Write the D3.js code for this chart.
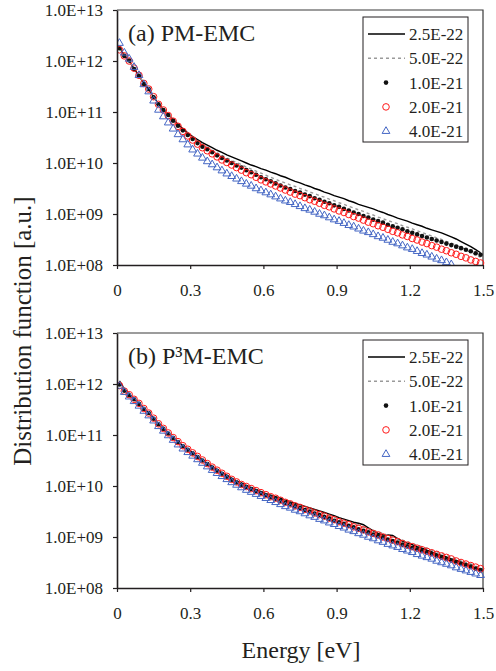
<!DOCTYPE html>
<html><head><meta charset="utf-8">
<script src="https://cdn.jsdelivr.net/npm/d3@7"></script>
<style>
body{margin:0;background:#fff}
svg text{font-family:"Liberation Serif","Times New Roman",serif !important;fill:#231f20}
</style>
</head><body><svg id="c" width="496" height="671" font-family="Liberation Serif"></svg>
<script>
// Energy [eV] (bin centres)
const energy = [0.01,0.03,0.05,0.07,0.09,0.11,0.13,0.15,0.17,0.19,0.21,0.23,0.25,0.27,0.29,0.31,0.33,0.35,0.37,0.39,
0.41,0.43,0.45,0.47,0.49,0.51,0.53,0.55,0.57,0.59,0.61,0.63,0.65,0.67,0.69,0.71,0.73,0.75,0.77,0.79,
0.81,0.83,0.85,0.87,0.89,0.91,0.93,0.95,0.97,0.99,1.01,1.03,1.05,1.07,1.09,1.11,1.13,1.15,1.17,1.19,
1.21,1.23,1.25,1.27,1.29,1.31,1.33,1.35,1.37,1.39,1.41,1.43,1.45,1.47,1.49];

const seriesNames = ["2.5E-22","5.0E-22","1.0E-21","2.0E-21","4.0E-21"];
const xTicks = [0,0.3,0.6,0.9,1.2,1.5];
const yTickExp = [8,9,10,11,12,13];
const panelTitles = ["(a) PM-EMC","(b) P³M-EMC"];

// values given as log10 of the distribution function
// (a) PM-EMC
const pm_25E22 = [12.27,12.11,12.00,11.85,11.71,11.56,11.44,11.30,11.16,11.05,10.95,10.85,10.76,10.67,10.59,10.52,10.46,10.40,10.35,10.30,
10.25,10.21,10.16,10.12,10.08,10.04,10.00,9.96,9.93,9.89,9.86,9.82,9.79,9.75,9.72,9.68,9.64,9.61,9.57,9.54,
9.50,9.47,9.43,9.40,9.36,9.33,9.30,9.26,9.23,9.19,9.16,9.13,9.10,9.06,9.03,8.99,8.96,8.92,8.89,8.86,
8.82,8.79,8.76,8.72,8.69,8.66,8.63,8.59,8.55,8.51,8.46,8.41,8.36,8.30,8.24];
const pm_50E22 = [12.24,12.11,12.00,11.85,11.72,11.56,11.45,11.30,11.16,11.05,10.95,10.84,10.75,10.66,10.58,10.50,10.43,10.36,10.31,10.25,
10.20,10.15,10.10,10.05,10.01,9.97,9.92,9.88,9.84,9.80,9.76,9.72,9.68,9.64,9.61,9.57,9.54,9.50,9.47,9.43,
9.40,9.36,9.33,9.29,9.26,9.22,9.19,9.15,9.12,9.08,9.05,9.01,8.98,8.94,8.91,8.87,8.84,8.81,8.77,8.74,
8.71,8.67,8.64,8.60,8.57,8.53,8.50,8.46,8.43,8.39,8.35,8.30,8.25,8.20,8.15];
const pm_10E21 = [12.25,12.10,12.01,11.84,11.71,11.55,11.45,11.29,11.15,11.04,10.94,10.83,10.73,10.64,10.55,10.47,10.39,10.32,10.27,10.21,
10.15,10.10,10.05,10.00,9.95,9.91,9.86,9.82,9.77,9.72,9.68,9.64,9.60,9.56,9.52,9.49,9.45,9.42,9.38,9.35,
9.31,9.28,9.24,9.21,9.17,9.14,9.10,9.07,9.03,9.00,8.96,8.93,8.89,8.86,8.83,8.79,8.76,8.73,8.70,8.66,
8.63,8.60,8.57,8.54,8.51,8.48,8.45,8.42,8.39,8.36,8.33,8.30,8.27,8.23,8.20];
const pm_20E21 = [12.22,12.10,12.00,11.86,11.72,11.56,11.45,11.30,11.15,11.04,10.93,10.82,10.72,10.62,10.53,10.45,10.37,10.30,10.24,10.18,
10.12,10.06,10.01,9.96,9.91,9.86,9.81,9.77,9.72,9.67,9.63,9.59,9.55,9.51,9.47,9.43,9.39,9.36,9.32,9.28,
9.25,9.21,9.17,9.14,9.10,9.06,9.03,8.99,8.95,8.92,8.88,8.84,8.81,8.77,8.74,8.70,8.66,8.63,8.59,8.56,
8.52,8.49,8.45,8.42,8.38,8.35,8.31,8.28,8.24,8.21,8.17,8.14,8.10,8.07,8.04];
const pm_40E21 = [12.35,12.16,12.04,11.88,11.72,11.54,11.40,11.22,11.04,10.91,10.79,10.67,10.56,10.46,10.36,10.26,10.18,10.10,10.03,9.97,
9.91,9.85,9.79,9.74,9.69,9.64,9.59,9.55,9.50,9.46,9.42,9.38,9.34,9.30,9.26,9.23,9.19,9.15,9.11,9.08,
9.04,9.00,8.97,8.93,8.89,8.86,8.82,8.78,8.75,8.71,8.67,8.64,8.60,8.56,8.53,8.49,8.45,8.42,8.38,8.34,
8.31,8.27,8.23,8.20,8.16,8.12,8.09,8.05,8.01,null,null,null,null,null,null];

// (b) P3M-EMC
const p3m_25E22 = [12.06,11.90,11.80,11.71,11.62,11.52,11.43,11.33,11.22,11.13,11.04,10.95,10.87,10.79,10.72,10.65,10.58,10.51,10.45,10.38,
10.32,10.26,10.21,10.15,10.10,10.06,10.01,9.97,9.93,9.89,9.85,9.82,9.79,9.76,9.72,9.69,9.66,9.63,9.60,9.57,
9.54,9.51,9.48,9.45,9.42,9.38,9.35,9.32,9.29,9.27,9.24,9.18,9.12,9.07,9.04,9.04,9.03,8.97,8.92,8.88,
8.85,8.81,8.78,8.74,8.71,8.67,8.64,8.61,8.57,8.54,8.50,8.47,8.43,8.39,8.35];
const p3m_50E22 = [12.03,11.89,11.79,11.71,11.62,11.52,11.43,11.33,11.22,11.13,11.04,10.95,10.87,10.79,10.72,10.65,10.58,10.51,10.44,10.38,
10.32,10.26,10.20,10.15,10.10,10.05,10.01,9.97,9.93,9.89,9.85,9.81,9.78,9.74,9.71,9.68,9.64,9.61,9.58,9.55,
9.51,9.48,9.45,9.42,9.39,9.35,9.32,9.29,9.26,9.23,9.19,9.16,9.13,9.10,9.07,9.03,9.00,8.97,8.94,8.91,
8.87,8.84,8.81,8.78,8.74,8.71,8.68,8.64,8.61,8.57,8.54,8.50,8.47,8.43,8.40];
const p3m_10E21 = [11.99,11.87,11.78,11.70,11.61,11.51,11.43,11.32,11.21,11.12,11.03,10.94,10.86,10.78,10.71,10.64,10.57,10.50,10.43,10.36,
10.30,10.24,10.18,10.12,10.07,10.02,9.98,9.94,9.90,9.86,9.82,9.78,9.75,9.71,9.67,9.64,9.60,9.57,9.53,9.50,
9.46,9.43,9.39,9.36,9.32,9.29,9.26,9.22,9.19,9.15,9.12,9.09,9.05,9.02,8.99,8.95,8.92,8.89,8.85,8.82,
8.79,8.76,8.73,8.70,8.67,8.63,8.60,8.57,8.54,8.51,8.48,8.45,8.42,8.38,8.35];
const p3m_20E21 = [11.97,11.86,11.79,11.70,11.62,11.52,11.43,11.33,11.22,11.13,11.04,10.95,10.87,10.79,10.72,10.65,10.58,10.51,10.44,10.37,
10.31,10.25,10.19,10.13,10.08,10.03,9.99,9.95,9.91,9.87,9.83,9.79,9.76,9.72,9.68,9.65,9.61,9.58,9.54,9.51,
9.47,9.44,9.41,9.37,9.34,9.30,9.27,9.24,9.20,9.17,9.14,9.10,9.07,9.04,9.00,8.97,8.94,8.91,8.87,8.84,
8.81,8.78,8.75,8.72,8.69,8.66,8.63,8.60,8.57,8.53,8.50,8.47,8.44,8.41,8.38];
const p3m_40E21 = [11.96,11.84,11.75,11.66,11.57,11.47,11.38,11.28,11.17,11.08,10.99,10.90,10.81,10.73,10.66,10.59,10.52,10.45,10.38,10.31,
10.25,10.19,10.13,10.07,10.02,9.97,9.92,9.88,9.84,9.80,9.76,9.72,9.68,9.64,9.60,9.57,9.53,9.50,9.46,9.42,
9.39,9.35,9.32,9.28,9.25,9.21,9.18,9.14,9.11,9.07,9.04,9.00,8.97,8.93,8.90,8.86,8.83,8.80,8.76,8.73,
8.70,8.66,8.63,8.60,8.57,8.53,8.50,8.47,8.44,8.40,8.37,8.34,8.31,8.28,8.25];

const panelData = [
  [pm_25E22, pm_50E22, pm_10E21, pm_20E21, pm_40E21],
  [p3m_25E22, p3m_50E22, p3m_10E21, p3m_20E21, p3m_40E21]
];

const svg = d3.select("#c");
const FONT = '"Liberation Serif","Times New Roman",serif';
const BLUE = "#4466c4", RED = "#ff1a1a";
const panels = [{top:10,bottom:265},{top:333,bottom:588}];
const L = 117, R = 483;
const x = d3.scaleLinear().domain([0,1.5]).range([L,R]);

panels.forEach((p, pi) => {
  const y = d3.scaleLog().domain([1e8,1e13]).range([p.bottom,p.top]);
  const g = svg.append("g");
  const clipId = "clip"+pi;
  svg.append("clipPath").attr("id",clipId).append("rect")
    .attr("x",L).attr("y",p.top-6).attr("width",R-L+6).attr("height",p.bottom-p.top+6);

  // frame (top/right)
  g.append("path").attr("d",`M${L},${p.top}H${R}V${p.bottom}`).attr("fill","none")
    .attr("stroke","#3a3a3a").attr("stroke-width",1.2);

  const pts = (arr) => arr.map((v,i)=> v==null?null:{e:energy[i], v:Math.pow(10,v)});
  const line = d3.line().defined(d=>d!=null).x(d=>x(d.e)).y(d=>y(d.v));
  const plot = g.append("g").attr("clip-path",`url(#${clipId})`);
  const data = panelData[pi];

  plot.append("path").datum(pts(data[0])).attr("d",line).attr("fill","none")
    .attr("stroke","#000").attr("stroke-width",1.4);
  plot.append("path").datum(pts(data[1])).attr("d",line).attr("fill","none")
    .attr("stroke","#9a9a9a").attr("stroke-width",1.4).attr("stroke-dasharray","3,3");
  plot.selectAll(".dot").data(pts(data[2]).filter(d=>d)).join("circle")
    .attr("cx",d=>x(d.e)).attr("cy",d=>y(d.v)).attr("r",2.3).attr("fill","#111");
  plot.selectAll(".ring").data(pts(data[3]).filter(d=>d)).join("circle")
    .attr("cx",d=>x(d.e)).attr("cy",d=>y(d.v)).attr("r",3.3).attr("fill","none")
    .attr("stroke",RED).attr("stroke-width",1);
  const tri = d3.symbol().type(d3.symbolTriangle).size(26);
  plot.selectAll(".tri").data(pts(data[4]).filter(d=>d)).join("path")
    .attr("d",tri).attr("transform",d=>`translate(${x(d.e)},${y(d.v)})`)
    .attr("fill","none").attr("stroke",BLUE).attr("stroke-width",1);

  // axes
  const yAxis = d3.axisLeft(y).tickValues(yTickExp.map(e=>Math.pow(10,e)))
    .tickFormat(d=>"1.0E+"+String(Math.round(Math.log10(d))).padStart(2,"0"))
    .tickSize(4).tickSizeOuter(0).tickPadding(10);
  const ya = g.append("g").attr("transform",`translate(${L},0)`).call(yAxis);
  const xAxis = d3.axisBottom(x).tickValues(xTicks)
    .tickFormat(d=> d===0?"0":d.toFixed(1)).tickSize(4).tickSizeOuter(0);
  const xa = g.append("g").attr("transform",`translate(0,${p.bottom})`).call(xAxis);
  [ya,xa].forEach(a=>{
    a.attr("font-family",FONT).attr("font-size",17);
    a.select(".domain").attr("stroke","#231f20").attr("stroke-width",1.6);
    a.selectAll(".tick line").attr("stroke","#231f20").attr("stroke-width",1.2);
    a.selectAll("text").style("font-family",FONT).style("font-size","17px").attr("fill","#231f20");
  });
  xa.selectAll("text").attr("y",19);

  // panel title
  g.append("text").attr("x",L+11).attr("y",p.top+31)
    .style("font-family",FONT).style("font-size","24px").text(panelTitles[pi]);

  // legend
  const lx = 363, ly = p.top+7, lw = 105, lh = 125;
  const lg = g.append("g");
  lg.append("rect").attr("x",lx).attr("y",ly).attr("width",lw).attr("height",lh)
    .attr("fill","#fff").attr("stroke","#231f20").attr("stroke-width",1);
  seriesNames.forEach((name,i)=>{
    const cy = ly + 17 + i*24.3;
    if(i===0) lg.append("line").attr("x1",lx+5).attr("x2",lx+42).attr("y1",cy).attr("y2",cy)
      .attr("stroke","#000").attr("stroke-width",1.4);
    if(i===1) lg.append("line").attr("x1",lx+5).attr("x2",lx+42).attr("y1",cy).attr("y2",cy)
      .attr("stroke","#9a9a9a").attr("stroke-width",1.4).attr("stroke-dasharray","3,3");
    if(i===2) lg.append("circle").attr("cx",lx+23).attr("cy",cy).attr("r",2.3).attr("fill","#111");
    if(i===3) lg.append("circle").attr("cx",lx+23).attr("cy",cy).attr("r",3.3)
      .attr("fill","none").attr("stroke",RED).attr("stroke-width",1);
    if(i===4) lg.append("path").attr("d",d3.symbol().type(d3.symbolTriangle).size(26)())
      .attr("transform",`translate(${lx+23},${cy})`).attr("fill","none").attr("stroke",BLUE).attr("stroke-width",1);
    lg.append("text").attr("x",lx+46).attr("y",cy).attr("dy","0.35em")
      .style("font-family",FONT).style("font-size","17px").text(name);
  });
});

// axis titles
svg.append("text").attr("x",301).attr("y",658).attr("text-anchor","middle")
  .style("font-family",FONT).style("font-size","24px").text("Energy [eV]");
svg.append("text").attr("transform","translate(31,331) rotate(-90)").attr("text-anchor","middle")
  .style("font-family",FONT).style("font-size","25px").text("Distribution function [a.u.]");
</script>
</body></html>
